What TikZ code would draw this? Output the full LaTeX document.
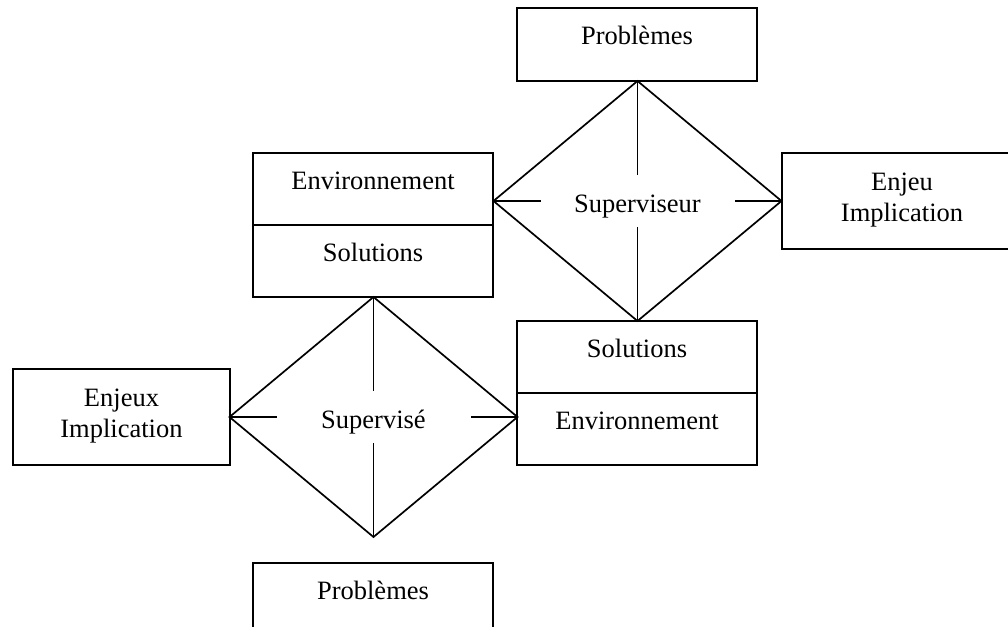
\documentclass[tikz,border=0pt]{standalone}
\usepackage{fontspec}
\setmainfont{Liberation Serif}
\usetikzlibrary{shapes.geometric, positioning}

\begin{document}
\begin{tikzpicture}[
    x=1pt, y=-1pt,
    every node/.append style={font=\fontsize{26.5pt}{31pt}\selectfont},
  ]

  \tikzset{
    entity-box/.style={
      draw=black, line width=1.8pt, inner sep=0pt, outer sep=0pt,
      minimum width=240pt, align=center,
    },
    one-line/.style={text height=9pt, text depth=9pt},
    two-line/.style={text depth=8pt},
    relation/.style={
      shape=diamond, draw=black, line width=1.7pt,
      inner sep=0pt, outer sep=0pt,
      minimum width=288pt, minimum height=240pt,
    },
    relation-text/.style={
      inner sep=0pt, outer sep=0pt,
      minimum width=194pt, minimum height=52pt,
      text height=22pt, text depth=0pt,
    },
    spoke/.style={line width=1.7pt},
  }

  % page frame, boxes cut off at the edges
  \useasboundingbox (0, 0) rectangle (1008, 626);
  \clip (0, 0) rectangle (1008, 626);

  %% ---------------- SUPERVISEUR ----------------
  \begin{scope}
    % relation diamond
    \node[relation] (superviseur) at (637.5, 201) {};
    \node[relation-text] (superviseur-text) at (superviseur.center) {Superviseur};
    % entities around it
    \node[entity-box, one-line, minimum height=73pt] (prob-top) at (637, 44.5) {Problèmes};
    \node[entity-box, one-line, minimum height=72pt] (env-top) at (373, 189) {Environnement};
    \node[entity-box, one-line, minimum height=72pt, below=0pt of env-top] (sol-top) {Solutions};
    \node[entity-box, two-line, minimum height=96pt] (enjeu-right) at (902, 201) {Enjeu\\Implication};
    % spokes from the corners towards the label
    \draw[spoke] (superviseur.north) -- (superviseur-text.north);
    \draw[spoke] (superviseur.south) -- (superviseur-text.south);
    \draw[spoke] (superviseur.west) -- (superviseur-text.west);
    \draw[spoke] (superviseur.east) -- (superviseur-text.east);
  \end{scope}

  %% ---------------- SUPERVISE ----------------
  \begin{scope}
    % relation diamond
    \node[relation] (supervise) at (373.5, 417) {};
    \node[relation-text] (supervise-text) at (supervise.center) {Supervisé};
    % entities around it
    \node[entity-box, one-line, minimum height=72pt] (sol-bot) at (637, 357) {Solutions};
    \node[entity-box, one-line, minimum height=72pt, below=0pt of sol-bot] (env-bot) {Environnement};
    \node[entity-box, two-line, minimum width=217pt, minimum height=96pt] (enjeux-left) at (121.5, 417) {Enjeux\\Implication};
    \node[entity-box, one-line, minimum height=73pt] (prob-bot) at (373, 599.5) {Problèmes};
    % spokes from the corners towards the label
    \draw[spoke] (supervise.north) -- (supervise-text.north);
    \draw[spoke] (supervise.south) -- (supervise-text.south);
    \draw[spoke] (supervise.west) -- (supervise-text.west);
    \draw[spoke] (supervise.east) -- (supervise-text.east);
  \end{scope}

\end{tikzpicture}
\end{document}
